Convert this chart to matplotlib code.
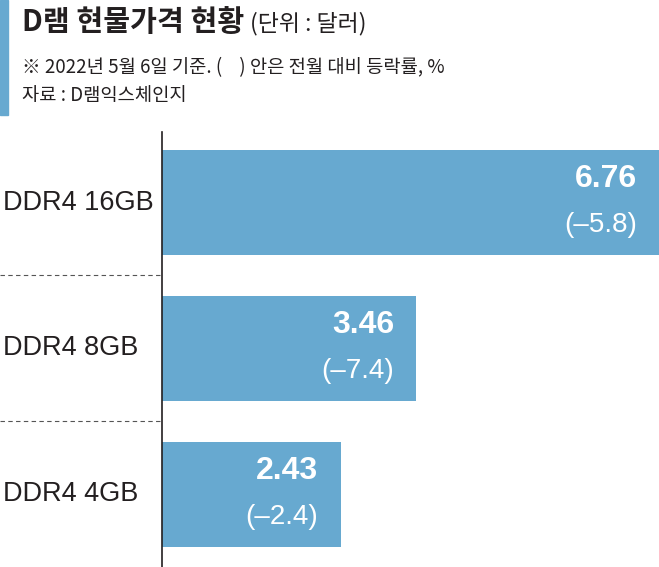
import matplotlib
matplotlib.use('Agg')
import matplotlib.pyplot as plt
from matplotlib.patches import Rectangle

plt.rcParams['font.family'] = ['Noto Sans CJK KR', 'DejaVu Sans']

categories = ['DDR4 16GB', 'DDR4 8GB', 'DDR4 4GB']
prices = [6.76, 3.46, 2.43]
changes = [-5.8, -7.4, -2.4]

title = 'D램 현물가격 현황'
unit = '(단위 : 달러)'
note = '※ 2022년 5월 6일 기준. (    ) 안은 전월 대비 등락률, %'
source = '자료 : D램익스체인지'

blue = '#67a9d0'
W, H = 659, 567

fig = plt.figure(figsize=(W / 100, H / 100), dpi=100)

# left accent bar next to the header
fig.patches.append(Rectangle((0, 1 - 115 / H), 8 / W, 115 / H,
                             transform=fig.transFigure, color=blue, zorder=0))

fig.text(22 / W, 1 - 22 / H, title, fontsize=21, fontweight='heavy',
         va='center', ha='left', color='#231f20')
fig.text(250 / W, 1 - 24 / H, unit, fontsize=16.5, va='center', ha='left',
         color='#231f20')
fig.text(22 / W, 1 - 68 / H, note, fontsize=13.5, va='center', ha='left',
         color='#231f20')
fig.text(22 / W, 1 - 95 / H, source, fontsize=13.5, va='center', ha='left',
         color='#231f20')

ax = fig.add_axes([162 / W, 0, 1 - 162 / W, (H - 132) / H])
y = list(range(len(categories)))
ax.barh(y, prices, height=0.72, color=blue)
ax.set_xlim(0, max(prices))
ax.set_ylim(2.497, -0.483)

for i, (p, c) in enumerate(zip(prices, changes)):
    ax.annotate(f'{p:.2f}', (p, i), xytext=(-16, 17), textcoords='offset points',
                ha='right', va='center', color='white', fontsize=23,
                fontweight='bold', family=['Liberation Sans', 'DejaVu Sans'])
    ax.annotate(f'({c:.1f})'.replace('-', '\u2013'), (p, i), xytext=(-16, -16),
                textcoords='offset points', ha='right', va='center',
                color='white', fontsize=20,
                family=['Liberation Sans', 'DejaVu Sans'])

ax.set_xticks([])
ax.set_yticks([])
for s in ['top', 'right', 'bottom']:
    ax.spines[s].set_visible(False)
ax.spines['left'].set_color('#231f20')
ax.spines['left'].set_linewidth(1.2)

# category labels and dashed separators, left of the axis
for i, name in enumerate(categories):
    ax.text(-159 / 73.5, i, name, ha='left', va='center', fontsize=19.5,
            color='#231f20', clip_on=False,
            family=['Liberation Sans', 'DejaVu Sans'])
for i in range(len(categories) - 1):
    ax.plot([-162 / 73.5, 0], [i + 0.5, i + 0.5], ls=(0, (4, 3)), lw=0.8,
            color='#555555', clip_on=False)

fig.savefig('out.png', dpi=100)
